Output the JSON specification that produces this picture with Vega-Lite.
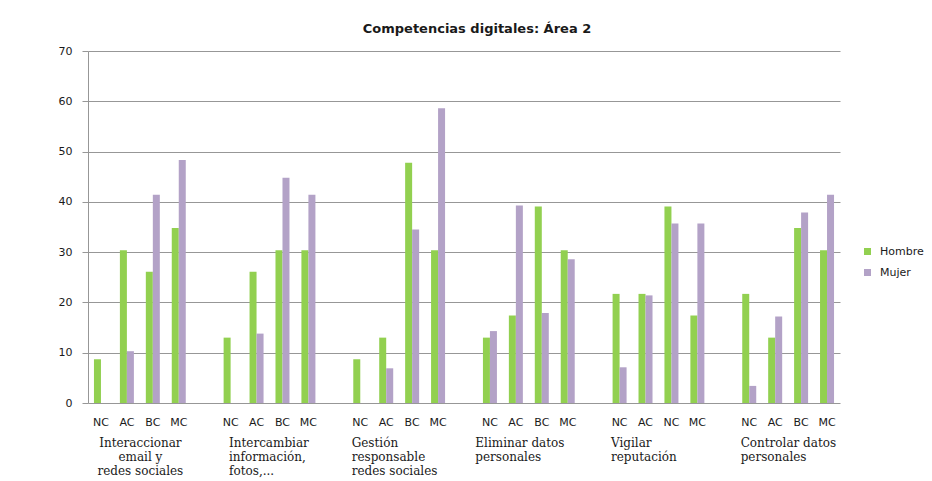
{
  "$schema": "https://vega.github.io/schema/vega-lite/v6.json",
  "autosize": {"type": "none"},
  "width": 752,
  "height": 352,
  "padding": {"left": 88, "top": 51, "right": 92, "bottom": 78},
  "background": "white",
  "title": {
    "text": "Competencias digitales: Área 2",
    "font": "DejaVu Sans",
    "fontSize": 13,
    "fontWeight": "bold",
    "color": "#1a1a1a",
    "anchor": "middle",
    "frame": "group",
    "dx": 13,
    "offset": 9
  },
  "data": {
    "values": [
      {"grupo": "Interaccionar email y redes sociales", "slot": "1a:NC", "sexo": "Hombre", "valor": 8.7},
      {"grupo": "Interaccionar email y redes sociales", "slot": "1a:NC", "sexo": "Mujer", "valor": 0},
      {"grupo": "Interaccionar email y redes sociales", "slot": "1b:AC", "sexo": "Hombre", "valor": 30.4},
      {"grupo": "Interaccionar email y redes sociales", "slot": "1b:AC", "sexo": "Mujer", "valor": 10.3},
      {"grupo": "Interaccionar email y redes sociales", "slot": "1c:BC", "sexo": "Hombre", "valor": 26.1},
      {"grupo": "Interaccionar email y redes sociales", "slot": "1c:BC", "sexo": "Mujer", "valor": 41.4},
      {"grupo": "Interaccionar email y redes sociales", "slot": "1d:MC", "sexo": "Hombre", "valor": 34.8},
      {"grupo": "Interaccionar email y redes sociales", "slot": "1d:MC", "sexo": "Mujer", "valor": 48.3},

      {"grupo": "Intercambiar información, fotos,...", "slot": "2a:NC", "sexo": "Hombre", "valor": 13.0},
      {"grupo": "Intercambiar información, fotos,...", "slot": "2a:NC", "sexo": "Mujer", "valor": 0},
      {"grupo": "Intercambiar información, fotos,...", "slot": "2b:AC", "sexo": "Hombre", "valor": 26.1},
      {"grupo": "Intercambiar información, fotos,...", "slot": "2b:AC", "sexo": "Mujer", "valor": 13.8},
      {"grupo": "Intercambiar información, fotos,...", "slot": "2c:BC", "sexo": "Hombre", "valor": 30.4},
      {"grupo": "Intercambiar información, fotos,...", "slot": "2c:BC", "sexo": "Mujer", "valor": 44.8},
      {"grupo": "Intercambiar información, fotos,...", "slot": "2d:MC", "sexo": "Hombre", "valor": 30.4},
      {"grupo": "Intercambiar información, fotos,...", "slot": "2d:MC", "sexo": "Mujer", "valor": 41.4},

      {"grupo": "Gestión responsable redes sociales", "slot": "3a:NC", "sexo": "Hombre", "valor": 8.7},
      {"grupo": "Gestión responsable redes sociales", "slot": "3a:NC", "sexo": "Mujer", "valor": 0},
      {"grupo": "Gestión responsable redes sociales", "slot": "3b:AC", "sexo": "Hombre", "valor": 13.0},
      {"grupo": "Gestión responsable redes sociales", "slot": "3b:AC", "sexo": "Mujer", "valor": 6.9},
      {"grupo": "Gestión responsable redes sociales", "slot": "3c:BC", "sexo": "Hombre", "valor": 47.8},
      {"grupo": "Gestión responsable redes sociales", "slot": "3c:BC", "sexo": "Mujer", "valor": 34.5},
      {"grupo": "Gestión responsable redes sociales", "slot": "3d:MC", "sexo": "Hombre", "valor": 30.4},
      {"grupo": "Gestión responsable redes sociales", "slot": "3d:MC", "sexo": "Mujer", "valor": 58.6},

      {"grupo": "Eliminar datos personales", "slot": "4a:NC", "sexo": "Hombre", "valor": 13.0},
      {"grupo": "Eliminar datos personales", "slot": "4a:NC", "sexo": "Mujer", "valor": 14.3},
      {"grupo": "Eliminar datos personales", "slot": "4b:AC", "sexo": "Hombre", "valor": 17.4},
      {"grupo": "Eliminar datos personales", "slot": "4b:AC", "sexo": "Mujer", "valor": 39.3},
      {"grupo": "Eliminar datos personales", "slot": "4c:BC", "sexo": "Hombre", "valor": 39.1},
      {"grupo": "Eliminar datos personales", "slot": "4c:BC", "sexo": "Mujer", "valor": 17.9},
      {"grupo": "Eliminar datos personales", "slot": "4d:MC", "sexo": "Hombre", "valor": 30.4},
      {"grupo": "Eliminar datos personales", "slot": "4d:MC", "sexo": "Mujer", "valor": 28.6},

      {"grupo": "Vigilar reputación", "slot": "5a:NC", "sexo": "Hombre", "valor": 21.7},
      {"grupo": "Vigilar reputación", "slot": "5a:NC", "sexo": "Mujer", "valor": 7.1},
      {"grupo": "Vigilar reputación", "slot": "5b:AC", "sexo": "Hombre", "valor": 21.7},
      {"grupo": "Vigilar reputación", "slot": "5b:AC", "sexo": "Mujer", "valor": 21.4},
      {"grupo": "Vigilar reputación", "slot": "5c:NC", "sexo": "Hombre", "valor": 39.1},
      {"grupo": "Vigilar reputación", "slot": "5c:NC", "sexo": "Mujer", "valor": 35.7},
      {"grupo": "Vigilar reputación", "slot": "5d:MC", "sexo": "Hombre", "valor": 17.4},
      {"grupo": "Vigilar reputación", "slot": "5d:MC", "sexo": "Mujer", "valor": 35.7},

      {"grupo": "Controlar datos personales", "slot": "6a:NC", "sexo": "Hombre", "valor": 21.7},
      {"grupo": "Controlar datos personales", "slot": "6a:NC", "sexo": "Mujer", "valor": 3.4},
      {"grupo": "Controlar datos personales", "slot": "6b:AC", "sexo": "Hombre", "valor": 13.0},
      {"grupo": "Controlar datos personales", "slot": "6b:AC", "sexo": "Mujer", "valor": 17.2},
      {"grupo": "Controlar datos personales", "slot": "6c:BC", "sexo": "Hombre", "valor": 34.8},
      {"grupo": "Controlar datos personales", "slot": "6c:BC", "sexo": "Mujer", "valor": 37.9},
      {"grupo": "Controlar datos personales", "slot": "6d:MC", "sexo": "Hombre", "valor": 30.4},
      {"grupo": "Controlar datos personales", "slot": "6d:MC", "sexo": "Mujer", "valor": 41.4}
    ]
  },
  "layer": [
    {
      "mark": {"type": "bar"},
      "encoding": {
        "x": {
          "field": "slot",
          "type": "nominal",
          "scale": {
            "domain": [
              "1a:NC", "1b:AC", "1c:BC", "1d:MC", "1e:",
              "2a:NC", "2b:AC", "2c:BC", "2d:MC", "2e:",
              "3a:NC", "3b:AC", "3c:BC", "3d:MC", "3e:",
              "4a:NC", "4b:AC", "4c:BC", "4d:MC", "4e:",
              "5a:NC", "5b:AC", "5c:NC", "5d:MC", "5e:",
              "6a:NC", "6b:AC", "6c:BC", "6d:MC"
            ],
            "paddingInner": 0.46,
            "paddingOuter": 0.23
          },
          "axis": {
            "title": null,
            "orient": "bottom",
            "labelExpr": "split(datum.label, ':')[1]",
            "labelAngle": 0,
            "labelFont": "DejaVu Sans",
            "labelFontSize": 11,
            "labelColor": "#1a1a1a",
            "labelPadding": 13,
            "ticks": false,
            "domain": false,
            "grid": false
          }
        },
        "xOffset": {"field": "sexo", "type": "nominal", "sort": ["Hombre", "Mujer"]},
        "y": {
          "field": "valor",
          "type": "quantitative",
          "scale": {"domain": [0, 70], "nice": false},
          "axis": {
            "title": null,
            "values": [0, 10, 20, 30, 40, 50, 60, 70],
            "grid": true,
            "gridColor": "#979797",
            "gridWidth": 1,
            "domain": true,
            "domainColor": "#979797",
            "ticks": true,
            "tickSize": 6,
            "tickColor": "#979797",
            "labelFont": "DejaVu Sans",
            "labelFontSize": 11,
            "labelColor": "#1a1a1a",
            "labelPadding": 10
          }
        },
        "color": {
          "field": "sexo",
          "type": "nominal",
          "scale": {"domain": ["Hombre", "Mujer"], "range": ["#92d050", "#b3a2c7"]},
          "legend": {
            "title": null,
            "orient": "none",
            "legendX": 774,
            "legendY": 195,
            "symbolType": "square",
            "symbolSize": 49,
            "symbolStrokeWidth": 0,
            "labelFont": "DejaVu Sans",
            "labelFontSize": 11,
            "labelColor": "#1a1a1a",
            "labelOffset": 7,
            "rowPadding": 9,
            "padding": 0
          }
        }
      }
    },
    {
      "mark": {"type": "point", "opacity": 0},
      "encoding": {
        "x": {
          "field": "grupo",
          "type": "nominal",
          "sort": null,
          "scale": {"type": "point", "padding": 0.4},
          "axis": {
            "title": null,
            "orient": "bottom",
            "offset": 0,
            "labelPadding": 34,
            "labelAngle": 0,
            "labelFont": "DejaVu Serif",
            "labelFontSize": 12,
            "labelLineHeight": 14,
            "labelColor": "#1a1a1a",
            "labelLimit": 0,
            "labelOverlap": false,
            "ticks": false,
            "domain": false,
            "grid": false,
            "labelAlign": {
              "condition": {"test": "datum.value == 'Interaccionar email y redes sociales'", "value": "center"},
              "value": "left"
            },
            "labelOffset": {
              "condition": [
                {"test": "datum.value == 'Interaccionar email y redes sociales'", "value": 0},
                {"test": "datum.value == 'Intercambiar información, fotos,...'", "value": -41},
                {"test": "datum.value == 'Eliminar datos personales'", "value": -54}
              ],
              "value": -48
            },
            "labelExpr": "datum.label == 'Interaccionar email y redes sociales' ? ['Interaccionar', 'email y', 'redes sociales'] : datum.label == 'Intercambiar información, fotos,...' ? ['Intercambiar', 'información,', 'fotos,...'] : datum.label == 'Gestión responsable redes sociales' ? ['Gestión', 'responsable', 'redes sociales'] : datum.label == 'Eliminar datos personales' ? ['Eliminar datos', 'personales'] : datum.label == 'Vigilar reputación' ? ['Vigilar', 'reputación'] : ['Controlar datos', 'personales']"
          }
        }
      }
    }
  ],
  "resolve": {"scale": {"x": "independent"}, "axis": {"x": "independent"}},
  "config": {
    "view": {"stroke": null},
    "bar": {"stroke": null}
  }
}
